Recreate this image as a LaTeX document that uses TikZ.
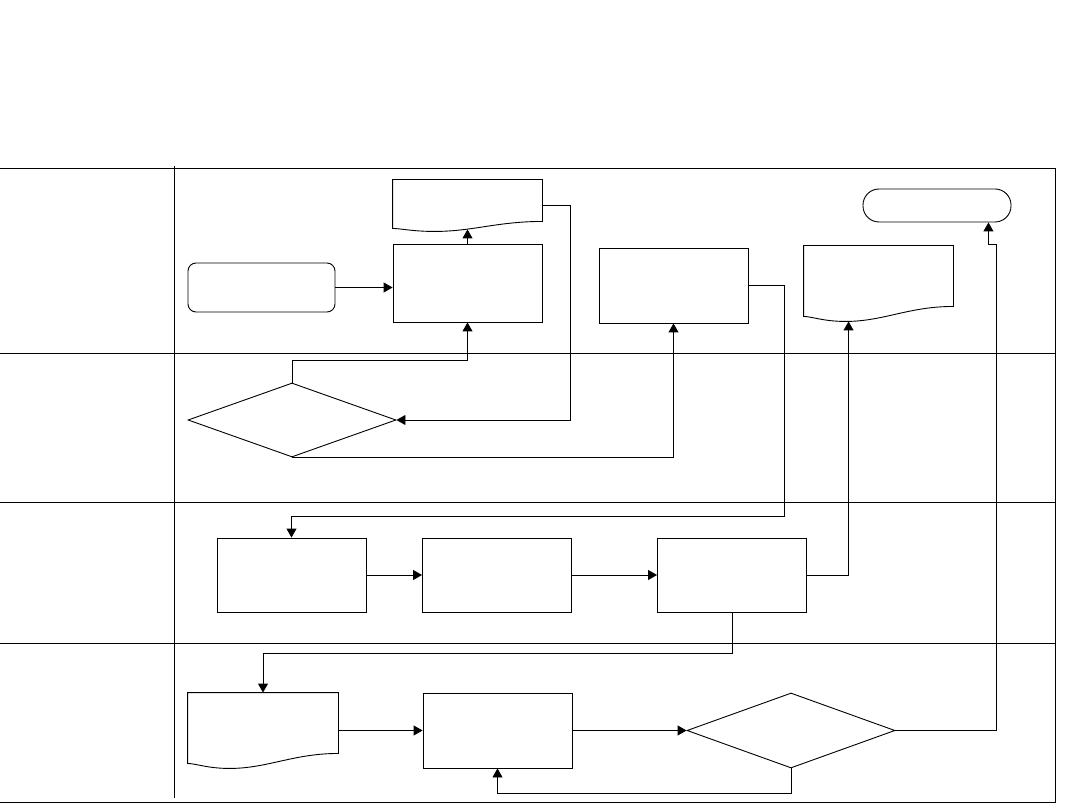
\documentclass[tikz,border=0pt]{standalone}
\usetikzlibrary{arrows.meta,shapes.geometric}
\newcommand{\docwave}[3]{%
  \draw ([yshift=#3]#1.south west) -- (#1.north west) -- (#1.north east)
    -- ([yshift=#2]#1.south east)
    .. controls ([xshift=-45,yshift=#2]#1.south east) and ([xshift=80]#1.south west)
    .. ([xshift=42]#1.south west)
    .. controls ([xshift=20]#1.south west) and ([xshift=8,yshift=#3]#1.south west)
    .. ([yshift=#3]#1.south west) -- cycle;}
\begin{document}
\begin{tikzpicture}[
      x=1pt,y=-1pt,
      line width=0.9pt,
      box/.style={draw,rectangle,inner sep=0pt,minimum width=149pt,minimum height=75pt},
      docbox/.style={rectangle,inner sep=0pt,minimum width=149pt,minimum height=75pt},
      termbox/.style={draw,rectangle,rounded corners=#1,inner sep=0pt},
      decide/.style={draw,diamond,inner sep=0pt,minimum width=208pt,minimum height=75pt},
      flow/.style={-{Triangle[length=9pt,width=10pt]}}
    ]
    \useasboundingbox (0,0) rectangle (1080,810);
    \draw[line width=1pt] (0,169) -- (1055,169) -- (1055,802) -- (0,802);
    \foreach \y in {354,502,643} {
      \draw[line width=1pt] (0,\y) -- (1055,\y);
    }
    \draw[line width=1pt] (174,166) -- (174,798);
    \node[termbox=8pt,minimum width=147pt,minimum height=49pt] (start) at (261.5,287.5) {};
    \node[box,minimum height=78pt] (p1) at (467.5,283) {};
    \node[docbox,minimum height=51pt] (doc1) at (467.5,205.5) {};
    \docwave{doc1}{10}{3}
    \node[box] (p2) at (673.5,285.5) {};
    \node[docbox] (doc2) at (878.5,283.5) {};
    \docwave{doc2}{15}{5}
    \node[termbox=16pt,minimum width=148pt,minimum height=33pt] (stop) at (937,205.5) {};
    \node[decide,minimum height=74pt] (d1) at (292,420) {};
    \node[box,minimum height=74pt] (pa) at (291.5,575) {};
    \node[box,minimum height=74pt] (pb) at (497,575) {};
    \node[box,minimum height=74pt] (pc) at (732,575) {};
    \node[docbox,minimum width=150pt] (doc3) at (263,730.5) {};
    \docwave{doc3}{15}{5}
    \node[box] (pe) at (497.5,730.5) {};
    \node[decide] (d2) at (791,730.5) {};
    \draw[flow] (start.east) -- (start.east -| p1.west);
    \draw[flow] (p1.north) -- ([yshift=2pt]doc1.south);
    \draw[flow] (doc1.east) -- ++(28,0) |- (d1.east);
    \draw[flow] (d1.north) -- ++(0,-22) -| (p1.south);
    \draw[flow] (d1.south) -| (p2.south);
    \draw[flow] (p2.east) -- ++(36,0) -- ++(0,231) -| (pa.north);
    \draw[flow] (pa) -- (pb);
    \draw[flow] (pb) -- (pc);
    \draw[flow] (pc.east) -| ([xshift=45pt]doc2.south west);
    \draw[flow] (pc.south) -- ++(0,41) -| (doc3.north);
    \draw[flow] (doc3.east) -- (pe.west);
    \draw[flow] (pe.east) -- (d2.west);
    \draw[flow] (d2.south) -- ++(0,25) -| (pe.south);
    \draw[flow] (d2.east) -- ++(101,0) -- ++(0,-486) -| ([xshift=-23pt]stop.south east);
  \end{tikzpicture}
\end{document}
